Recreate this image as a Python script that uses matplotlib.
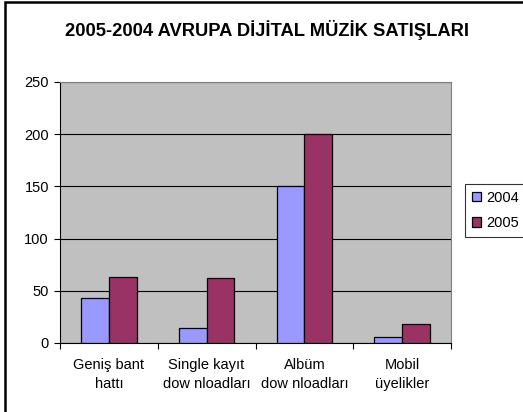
import matplotlib.pyplot as plt
import numpy as np
from matplotlib.patches import Rectangle

plt.rcParams['font.family'] = ['Liberation Sans', 'DejaVu Sans']

kategoriler = ['Geniş bant\nhattı', 'Single kayıt\ndow nloadları',
               'Albüm\ndow nloadları', 'Mobil\nüyelikler']
y2004 = [43, 14, 150, 5.5]
y2005 = [63.5, 62, 200, 18]
yillar = ['2004', '2005']

fig = plt.figure(figsize=(5.23, 4.12), dpi=100)
W, H = 523, 412
ax = fig.add_axes([60 / W, 1 - 343 / H, (451 - 60) / W, (343 - 82) / H])
ax.set_facecolor('#C0C0C0')

x = np.arange(len(kategoriler))
w = 0.285
ax.bar(x - w / 2, y2004, w, color='#9999FF', edgecolor='black', linewidth=0.9,
       label=yillar[0], zorder=3)
ax.bar(x + w / 2, y2005, w, color='#993366', edgecolor='black', linewidth=0.9,
       label=yillar[1], zorder=3)

ax.set_xlim(-0.5, len(kategoriler) - 0.5)
ax.set_ylim(0, 250)
ax.set_yticks(range(0, 251, 50))
ax.set_xticks(np.arange(-0.5, len(kategoriler), 1))
ax.set_xticklabels([])
ax.set_xticks(x, minor=True)
ax.set_xticklabels(kategoriler, minor=True, fontsize=10.5, linespacing=1.45)
ax.tick_params(axis='x', which='minor', length=0, pad=11)
ax.tick_params(axis='x', which='major', direction='out', length=4, width=0.8)
ax.tick_params(axis='y', direction='out', length=4, width=0.8, labelsize=10.5, pad=4)
ax.yaxis.grid(True, color='black', linewidth=0.8, zorder=0)
for s in ['top', 'right']:
    ax.spines[s].set_color('#808080')
for s in ['left', 'bottom']:
    ax.spines[s].set_color('black')

fig.text(267 / W, 1 - 30 / H, '2005-2004 AVRUPA DİJİTAL MÜZİK SATIŞLARI',
         ha='center', va='center', fontsize=13.2, fontweight='bold')

leg = fig.legend(loc='upper left', bbox_to_anchor=(465 / W, 1 - 184 / H),
                 fontsize=10.5, frameon=True, fancybox=False, edgecolor='black',
                 handlelength=0.65, handleheight=0.65, handletextpad=0.35,
                 borderpad=0.45, labelspacing=0.8, borderaxespad=0)
leg.get_frame().set_linewidth(0.8)

# cerceve (sadece sol ve ust gorunuyor)
fig.patches.append(Rectangle((5 / W, -0.1), 1.2, 1 - 2 / H + 0.1,
                             transform=fig.transFigure, fill=False,
                             edgecolor='black', linewidth=1.8))

fig.savefig('out.png', dpi=100)
